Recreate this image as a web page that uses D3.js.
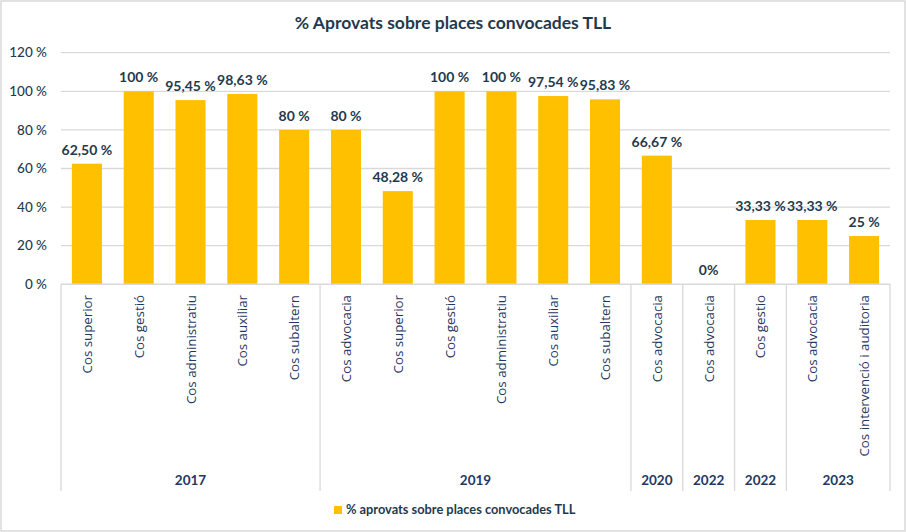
<!DOCTYPE html>
<html><head><meta charset="utf-8">
<script src="https://cdn.jsdelivr.net/npm/d3@7"></script>
<style>
html,body{margin:0;padding:0;background:#fff;}
svg{display:block;}
</style></head>
<body><svg id="c" width="906" height="532"></svg>
<script>
const categories = ["Cos superior","Cos gestió","Cos administratiu","Cos auxiliar","Cos subaltern",
  "Cos advocacia","Cos superior","Cos gestió","Cos administratiu","Cos auxiliar","Cos subaltern",
  "Cos advocacia","Cos advocacia","Cos gestio","Cos advocacia","Cos intervenció i auditoria"];
const years = ["2017","2017","2017","2017","2017","2019","2019","2019","2019","2019","2019","2020","2022a","2022b","2023","2023"];
const groupLabels = ["2017","2019","2020","2022","2022","2023"];
const groupKeys = ["2017","2019","2020","2022a","2022b","2023"];
const values = [62.5,100,95.45,98.63,80,80,48.28,100,100,97.54,95.83,66.67,0,33.33,33.33,25];
const valueLabels = ["62,50 %","100 %","95,45 %","98,63 %","80 %","80  %","48,28 %","100  %","100 %","97,54 %","95,83 %","66,67 %","0%","33,33 %","33,33 %","25 %"];
const yTicks = [0,20,40,60,80,100,120];
const title = "% Aprovats sobre places convocades TLL";
const seriesName = "% aprovats sobre places convocades TLL";

(function(){
const svg = d3.select("#c");
const W = 906, H = 532;
const mLeft = 61, mRight = 890, mTop = 52.7, mBottom = 284.3;
const barColor = "#FFC000", textDark = "#1F3A4D", navy = "#1F3864", grid = "#D9D9D9";
const calibri = "Lato, 'Open Sans', sans-serif";

svg.append("rect").attr("x",1).attr("y",1).attr("width",W-2).attr("height",H-2)
  .attr("fill","#fff").attr("stroke","#D9D9D9").attr("stroke-width",1.5);

const idx = categories.map((d,i)=>i);
const x = d3.scaleBand().domain(idx).range([mLeft,mRight]).paddingInner(0.42).paddingOuter(0.21);
const xb = d3.scaleBand().domain(idx).range([mLeft,mRight]);
const y = d3.scaleLinear().domain([0,120]).range([mBottom,mTop]);

svg.append("g").selectAll("line").data(yTicks.filter(t=>t>0)).join("line")
  .attr("x1",mLeft).attr("x2",mRight).attr("y1",d=>y(d)).attr("y2",d=>y(d))
  .attr("stroke",grid).attr("stroke-width",1.3);

svg.append("g").selectAll("text").data(yTicks).join("text")
  .attr("x",47).attr("y",d=>y(d)).attr("dy","0.35em").attr("text-anchor","end")
  .attr("font-family",calibri).attr("font-size",13.5).attr("font-weight",500).attr("fill",textDark)
  .text(d=>d+" %");

svg.append("g").selectAll("rect").data(values).join("rect")
  .attr("x",(d,i)=>x(i)).attr("width",x.bandwidth())
  .attr("y",d=>y(d)).attr("height",d=>mBottom-y(d)).attr("fill",barColor);

svg.append("g").selectAll("text").data(values).join("text")
  .attr("x",(d,i)=>x(i)+x.bandwidth()/2).attr("y",d=>y(d)-14).attr("dy","0.35em")
  .attr("text-anchor","middle").attr("font-family",calibri).attr("font-weight","bold")
  .attr("font-size",14).attr("fill",textDark)
  .text((d,i)=>valueLabels[i]);

svg.append("line").attr("x1",mLeft).attr("x2",mRight).attr("y1",mBottom).attr("y2",mBottom)
  .attr("stroke",grid).attr("stroke-width",1.5);

const bounds = [];
groupKeys.forEach((g,gi)=>{
  const members = idx.filter(i=>years[i]===g);
  bounds.push({g:groupLabels[gi], x0:xb(members[0]), x1:xb(members[members.length-1])+xb.bandwidth()});
});
const sepX = [mLeft].concat(bounds.map(b=>b.x1));
svg.append("g").selectAll("line").data(sepX).join("line")
  .attr("x1",d=>d).attr("x2",d=>d).attr("y1",mBottom).attr("y2",491)
  .attr("stroke",grid).attr("stroke-width",1.3);

svg.append("g").selectAll("text").data(categories).join("text")
  .attr("transform",(d,i)=>`translate(${xb(i)+xb.bandwidth()/2+5},295) rotate(-90)`)
  .attr("text-anchor","end").attr("font-family","'Open Sans'")
  .attr("font-size",13.3).attr("fill",navy).text(d=>d);

svg.append("g").selectAll("text").data(bounds).join("text")
  .attr("x",d=>(d.x0+d.x1)/2).attr("y",480).attr("dy","0.35em").attr("text-anchor","middle")
  .attr("font-family",calibri).attr("font-weight","bold").attr("font-size",13.5).attr("fill",navy)
  .text(d=>d.g);

svg.append("text").attr("x",453).attr("y",23).attr("dy","0.35em").attr("text-anchor","middle")
  .attr("font-family",calibri).attr("font-weight","bold").attr("font-size",17.5).attr("fill",textDark)
  .text(title);

const lg = svg.append("g");
lg.append("rect").attr("x",334).attr("y",506).attr("width",8).attr("height",8).attr("fill",barColor);
lg.append("text").attr("x",346).attr("y",510).attr("dy","0.35em")
  .attr("font-family",calibri).attr("font-weight","bold").attr("font-size",12.8).attr("fill",textDark)
  .text(seriesName);
})();
</script></body></html>
